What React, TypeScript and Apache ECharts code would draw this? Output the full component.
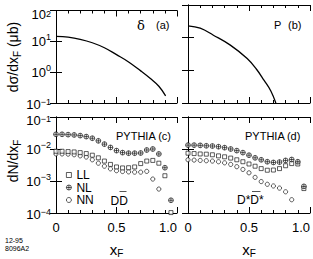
import React, { useEffect, useRef } from 'react';
import * as echarts from 'echarts';

// ---- data ----
const deltaX = [0, 0.1, 0.2, 0.3, 0.4, 0.5, 0.6, 0.7, 0.78, 0.85, 0.906];
const deltaY = [14.5, 13.6, 11.6, 9.0, 6.2, 3.7, 2.15, 1.1, 0.62, 0.35, 0.17];

const protonX = [0, 0.1, 0.208, 0.347, 0.485, 0.56, 0.624, 0.68, 0.72];
const protonY = [23, 19.5, 11.9, 5.9, 2.29, 1.1, 0.49, 0.23, 0.1];

const xF = [0, 0.05, 0.1, 0.15, 0.2, 0.25, 0.3, 0.35, 0.4, 0.45, 0.5, 0.55, 0.6, 0.65, 0.7, 0.75, 0.8, 0.85, 0.9, 0.95];

// panel (c): D Dbar
const cNL = [0.0288, 0.0288, 0.0281, 0.0275, 0.0262, 0.0244, 0.0217, 0.018, 0.0142, 0.0112, 0.0089, 0.0077, 0.0074, 0.0074, 0.0075, 0.0093, 0.01, 0.007, 0.0026, 0.00025];
const cLL = [0.0085, 0.0085, 0.0083, 0.0081, 0.0077, 0.0072, 0.0064, 0.0053, 0.0042, 0.0033, 0.00275, 0.00256, 0.0026, 0.00275, 0.0035, 0.0042, 0.0044, 0.0036, 0.00146, 0.000103];
const cNN = [0.007, 0.007, 0.0069, 0.0066, 0.0061, 0.0056, 0.0046, 0.0036, 0.0029, 0.0024, 0.0021, 0.00198, 0.00193, 0.00189, 0.00189, 0.002, 0.00115, 0.00056];

// panel (d): D* D*bar
const dNL = [0.0132, 0.0132, 0.013, 0.0126, 0.0124, 0.0118, 0.011, 0.01, 0.0089, 0.0077, 0.0064, 0.0053, 0.0046, 0.004, 0.0038, 0.0039, 0.0044, 0.0047, 0.004, 0.00068];
const dLL = [0.0074, 0.0072, 0.007, 0.0069, 0.0066, 0.0061, 0.0057, 0.0052, 0.0046, 0.004, 0.0034, 0.0029, 0.00244, 0.00217, 0.0022, 0.00244, 0.003, 0.0035, 0.0034, 0.00058];
const dNN = [0.0046, 0.0045, 0.0044, 0.0043, 0.0042, 0.004, 0.0037, 0.0033, 0.0028, 0.0023, 0.0018, 0.0013, 0.00096, 0.00079, 0.0007, 0.0006, 0.00046, 0.00026];

const xTicks = [0, 0.5, 1.0];
const seriesNames = ['LL', 'NL', 'NN'];

const FONT = '"Liberation Sans", Arial, Helvetica, sans-serif';
const BLACK = '#000';

const zip = (xs: number[], ys: number[]) => ys.map((y, i) => [xs[i], y]);

const NL_SYMBOL = 'path://M10 0A10 10 0 1 1 10 20A10 10 0 1 1 10 0ZM0 10L20 10M10 0L10 20';
const symbolOf = (name: string) => (name === 'LL' ? 'rect' : name === 'NN' ? 'circle' : NL_SYMBOL);
const sizeOf = (name: string) => (name === 'LL' ? 4 : name === 'NN' ? 4.2 : 4.8);

const grids = [
  { left: 56, top: 5, width: 121, height: 98 },
  { left: 188, top: 5, width: 122, height: 98 },
  { left: 56, top: 117, width: 121, height: 98 },
  { left: 188, top: 117, width: 122, height: 98 },
];

const supText = (e: number) => (e < 0 ? '\u2212' + -e : String(e));

const yRich = (padTop: number) => {
  const b = { fontSize: 13, lineHeight: 18, fontFamily: FONT, color: BLACK };
  const s = { fontSize: 9, lineHeight: 9, verticalAlign: 'top', fontFamily: FONT, color: BLACK };
  return {
    b,
    s,
    bt: { ...b, padding: [padTop, 0, 0, 0] },
    st: { ...s, padding: [padTop, 0, 0, 0] },
    bb: { ...b, padding: [3, 0, 0, 0] },
    sb: { ...s, padding: [3, 0, 0, 0] },
  };
};

const xAxisDef = (gi: number, pos: 'bottom' | 'top', showLabel: boolean) => ({
  type: 'value',
  gridIndex: gi,
  position: pos,
  min: xTicks[0],
  max: xTicks[xTicks.length - 1],
  interval: xTicks[1] - xTicks[0],
  axisLine: { show: true, onZero: false, lineStyle: { color: BLACK, width: 1 } },
  axisTick: { show: true, inside: true, length: 6, lineStyle: { color: BLACK, width: 1 } },
  minorTick: { show: true, splitNumber: 5, length: 3, lineStyle: { color: BLACK, width: 1 } },
  splitLine: { show: false },
  minorSplitLine: { show: false },
  axisLabel: {
    show: showLabel,
    margin: 8,
    fontSize: 13,
    fontFamily: FONT,
    color: BLACK,
    alignMaxLabel: 'right',
    formatter: (v: number) => (v === 0 ? '0' : v.toFixed(1)),
  },
  name: showLabel ? '{x|x}{f|F}' : '',
  nameLocation: 'middle',
  nameGap: 27,
  nameTextStyle: {
    rich: {
      x: { fontSize: 15, lineHeight: 18, fontFamily: FONT, color: BLACK },
      f: { fontSize: 10, lineHeight: 10, verticalAlign: 'bottom', fontFamily: FONT, color: BLACK },
    },
  },
});

const yAxisDef = (gi: number, pos: 'left' | 'right', min: number, max: number, showLabel: boolean, padTop: number) => {
  const eTop = Math.round(Math.log10(max));
  const eBot = Math.round(Math.log10(min));
  return {
    type: 'log',
    logBase: 10,
    gridIndex: gi,
    position: pos,
    min,
    max,
    splitNumber: 3,
    axisLine: { show: true, lineStyle: { color: BLACK, width: 1 } },
    axisTick: { show: true, inside: true, length: 6, lineStyle: { color: BLACK, width: 1 } },
    minorTick: { show: false },
    splitLine: { show: false },
    axisLabel: {
      show: showLabel,
      margin: 5,
      formatter: (v: number) => {
        const e = Math.round(Math.log10(v));
        if (e === eTop) return `{bt|10}{st|${supText(e)}}`;
        if (e === eBot) return `{bb|10}{sb|${supText(e)}}`;
        return `{b|10}{s|${supText(e)}}`;
      },
      rich: yRich(padTop),
    },
  };
};

const markerStyle = { color: '#fff', borderColor: BLACK, borderWidth: 0.8 };

const scatter = (name: string, data: number[][], axis: number) => ({
  type: 'scatter',
  name,
  xAxisIndex: axis,
  yAxisIndex: axis,
  symbol: symbolOf(name),
  symbolSize: sizeOf(name),
  itemStyle: markerStyle,
  data,
  silent: true,
});

const labelText = (x: number, y: number, text: string, size = 11, family = FONT) => ({
  type: 'text',
  x,
  y,
  silent: true,
  style: { text, fontSize: size, fontFamily: family, fill: BLACK, align: 'left', verticalAlign: 'middle' },
});

export default function App() {
  const ref = useRef<HTMLDivElement>(null);
  useEffect(() => {
    if (!ref.current) return;
    const chart = echarts.init(ref.current, undefined, { renderer: 'svg' });
    const titleRich = {
      a: { fontSize: 14, lineHeight: 18, fontFamily: FONT, color: BLACK },
      s: { fontSize: 10, lineHeight: 10, verticalAlign: 'bottom', fontFamily: FONT, color: BLACK },
    };
    const option = {
      animation: false,
      backgroundColor: '#fff',
      grid: grids,
      xAxis: [
        xAxisDef(0, 'bottom', false),
        xAxisDef(0, 'top', false),
        xAxisDef(1, 'bottom', false),
        xAxisDef(1, 'top', false),
        xAxisDef(2, 'bottom', true),
        xAxisDef(2, 'top', false),
        xAxisDef(3, 'bottom', true),
        xAxisDef(3, 'top', false),
      ],
      yAxis: [
        yAxisDef(0, 'left', 0.1, 100, true, 8),
        yAxisDef(0, 'right', 0.1, 100, false, 8),
        yAxisDef(1, 'left', 0.1, 100, false, 8),
        yAxisDef(1, 'right', 0.1, 100, false, 8),
        yAxisDef(2, 'left', 0.0001, 0.1, true, 6),
        yAxisDef(2, 'right', 0.0001, 0.1, false, 6),
        yAxisDef(3, 'left', 0.0001, 0.1, false, 6),
        yAxisDef(3, 'right', 0.0001, 0.1, false, 6),
      ],
      legend: {
        data: seriesNames.map((n) => ({
          name: n,
          icon: symbolOf(n),
          itemStyle: { color: '#fff', borderColor: BLACK, borderWidth: 0.8 },
        })),
        orient: 'vertical',
        left: 66,
        top: 169,
        itemWidth: 5,
        itemHeight: 5,
        itemGap: 0.5,
        selectedMode: false,
        padding: 0,
        textStyle: { fontSize: 12, fontFamily: FONT, color: BLACK, lineHeight: 10.5 },
      },
      series: [
        {
          type: 'line',
          name: 'delta',
          xAxisIndex: 0,
          yAxisIndex: 0,
          data: zip(deltaX, deltaY),
          smooth: 0.4,
          showSymbol: false,
          lineStyle: { color: BLACK, width: 1.3 },
          silent: true,
        },
        {
          type: 'line',
          name: 'proton',
          xAxisIndex: 2,
          yAxisIndex: 2,
          data: zip(protonX, protonY),
          smooth: 0.4,
          showSymbol: false,
          lineStyle: { color: BLACK, width: 1.3 },
          silent: true,
        },
        scatter('NN', zip(xF, cNN), 4),
        scatter('LL', zip(xF, cLL), 4),
        scatter('NL', zip(xF, cNL), 4),
        scatter('NN', zip(xF, dNN), 6),
        scatter('LL', zip(xF, dLL), 6),
        scatter('NL', zip(xF, dNL), 6),
      ],
      graphic: [
        labelText(137, 25, '\u03b4', 13, '"DejaVu Serif", "Liberation Serif", serif'),
        labelText(156, 25, '(a)'),
        labelText(274, 25, 'P'),
        labelText(288, 25, '(b)'),
        labelText(116, 136, 'PYTHIA (c)'),
        labelText(245, 136, 'PYTHIA\u2009(d)'),
        labelText(110.5, 201, 'DD', 12),
        {
          type: 'line',
          silent: true,
          shape: { x1: 119.5, y1: 191.5, x2: 126.5, y2: 191.5 },
          style: { stroke: '#555', lineWidth: 1 },
        },
        labelText(237, 200, 'D*D*', 12),
        {
          type: 'line',
          silent: true,
          shape: { x1: 252, y1: 191.5, x2: 260.5, y2: 191.5 },
          style: { stroke: '#555', lineWidth: 1 },
        },
        {
          type: 'text',
          x: 13,
          y: 57,
          rotation: Math.PI / 2,
          silent: true,
          style: { text: '{a|d\u03c3/dx}{s|F}{a| (\u03bcb)}', rich: titleRich, align: 'center', verticalAlign: 'middle' },
        },
        {
          type: 'text',
          x: 13,
          y: 161,
          rotation: Math.PI / 2,
          silent: true,
          style: { text: '{a|dN/dx}{s|F}', rich: titleRich, align: 'center', verticalAlign: 'middle' },
        },
        labelText(5, 240, '12-95', 7),
        labelText(5, 248, '8096A2', 7),
      ],
    };
    chart.setOption(option as any);
    return () => chart.dispose();
  }, []);
  return (
    <div
      ref={ref}
      style={{ position: 'absolute', left: 0, top: 0, width: 313, height: 259, background: '#fff' }}
    />
  );
}
